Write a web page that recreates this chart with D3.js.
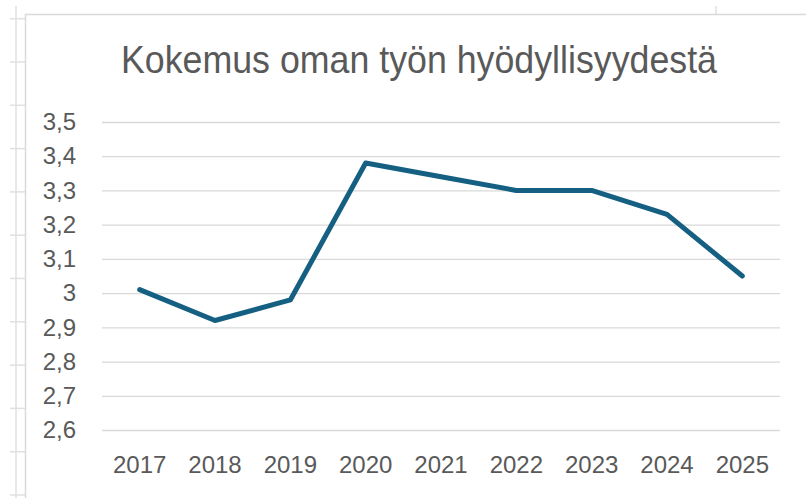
<!DOCTYPE html>
<html>
<head>
<meta charset="utf-8">
<script src="https://cdn.jsdelivr.net/npm/d3@7"></script>
<style>
  body { margin: 0; background: #fff; }
  svg { display: block; }
</style>
</head>
<body>
<div id="chart"></div>
<script>
var title = "Kokemus oman työn hyödyllisyydestä";
var years = ["2017", "2018", "2019", "2020", "2021", "2022", "2023", "2024", "2025"];
var values = [3.01, 2.92, 2.98, 3.38, 3.34, 3.30, 3.30, 3.23, 3.05];
var yTicks = [2.6, 2.7, 2.8, 2.9, 3.0, 3.1, 3.2, 3.3, 3.4, 3.5];

var svgW = 806, svgH = 498;
var plot = { left: 102, right: 780, top: 122, bottom: 430 };

var svg = d3.select("#chart").append("svg")
    .attr("width", svgW).attr("height", svgH);

// spreadsheet grid peeking out round the chart object
var sheet = svg.append("g").attr("stroke", "#e0e0e0").attr("stroke-width", 1.5);
sheet.append("line").attr("x1", 16).attr("x2", 16).attr("y1", 6).attr("y2", svgH);
sheet.append("line").attr("x1", 716).attr("x2", 716).attr("y1", 6).attr("y2", 14);
d3.range(18.7, svgH, 43.3).forEach(function(y) {
    sheet.append("line").attr("x1", 10).attr("x2", 25).attr("y1", y).attr("y2", y);
});

// chart area border
svg.append("rect")
    .attr("x", 25.5).attr("y", 14.5)
    .attr("width", svgW).attr("height", svgH)
    .attr("fill", "#fff").attr("stroke", "#d9d9d9").attr("stroke-width", 1.5);

var x = d3.scaleBand().domain(years).range([plot.left, plot.right]).padding(0);
var y = d3.scaleLinear().domain([2.6, 3.5]).range([plot.bottom, plot.top]);

var fmt = function(d) { return String(+d.toFixed(1)).replace(".", ","); };

// gridlines + y labels
var yAxis = d3.axisLeft(y).tickValues(yTicks).tickFormat(fmt)
    .tickSize(-(plot.right - plot.left)).tickPadding(26);

var gy = svg.append("g")
    .attr("transform", `translate(${plot.left}, 0)`)
    .call(yAxis);
gy.select(".domain").remove();
gy.selectAll(".tick line").attr("stroke", "#d9d9d9").attr("stroke-width", 1.3);
gy.selectAll(".tick text")
    .attr("fill", "#595959")
    .attr("font-family", "'Liberation Sans', Arial, sans-serif")
    .attr("font-size", 24);

// x labels
var xAxis = d3.axisBottom(x).tickSize(0).tickPadding(0);
var gx = svg.append("g")
    .attr("transform", `translate(0, ${plot.bottom})`)
    .call(xAxis);
gx.select(".domain").remove();
gx.selectAll(".tick text")
    .attr("fill", "#595959")
    .attr("font-family", "'Liberation Sans', Arial, sans-serif")
    .attr("font-size", 24)
    .attr("dy", null)
    .attr("y", 43);

// the line
var line = d3.line()
    .x(function(d, i) { return x(years[i]) + x.bandwidth() / 2; })
    .y(function(d) { return y(d); });

svg.append("path")
    .datum(values)
    .attr("d", line)
    .attr("fill", "none")
    .attr("stroke", "#156082")
    .attr("stroke-width", 5)
    .attr("stroke-linejoin", "round")
    .attr("stroke-linecap", "round");

// title
svg.append("text")
    .attr("x", 419).attr("y", 73)
    .attr("text-anchor", "middle")
    .attr("fill", "#595959")
    .attr("font-family", "'Liberation Sans', Arial, sans-serif")
    .attr("font-size", 39)
    .attr("textLength", 596)
    .attr("lengthAdjust", "spacingAndGlyphs")
    .text(title);
</script>
</body>
</html>
